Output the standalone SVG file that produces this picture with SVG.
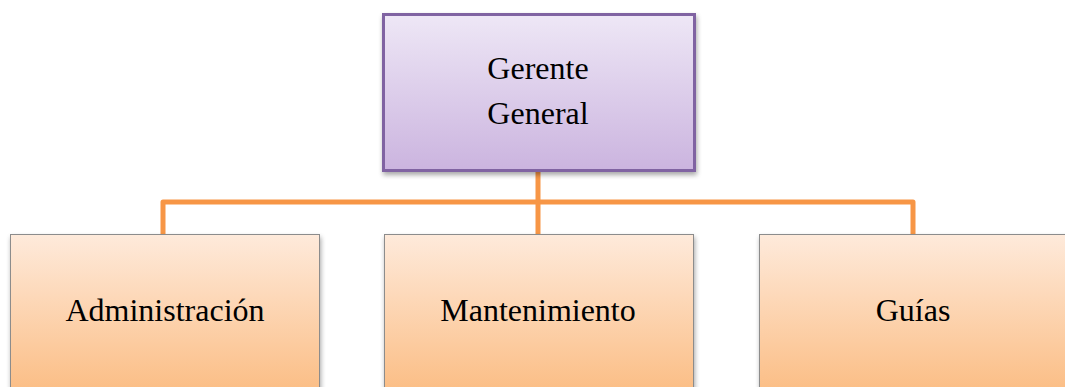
<svg xmlns="http://www.w3.org/2000/svg" width="1065" height="387" viewBox="0 0 1065 387">
<defs>
<linearGradient id="gPurple" x1="0" y1="0" x2="0" y2="1">
<stop offset="0" stop-color="#EEE7F6"/>
<stop offset="1" stop-color="#CBB4DF"/>
</linearGradient>
<linearGradient id="gOrange" x1="0" y1="0" x2="0" y2="1">
<stop offset="0" stop-color="#FEEADB"/>
<stop offset="1" stop-color="#FBBA7E"/>
</linearGradient>
<filter id="shadow" x="-10%" y="-10%" width="125%" height="130%">
<feGaussianBlur in="SourceAlpha" stdDeviation="2.5"/>
<feOffset dx="1" dy="3" result="b"/>
<feComponentTransfer><feFuncA type="linear" slope="0.35"/></feComponentTransfer>
<feMerge><feMergeNode/><feMergeNode in="SourceGraphic"/></feMerge>
</filter>
</defs>
<style>
.lbl{font-family:"Liberation Serif","Times New Roman",serif;font-size:32px;fill:#000;text-anchor:middle}
.child{fill:url(#gOrange);stroke:#8C8C8C;stroke-width:1}
.conn{fill:none;stroke:#F79646;stroke-width:5;stroke-linejoin:round}
</style>
<g id="connectors">
<path class="conn" d="M538,170 V202 M163,234 V202 H913 V234 M538,202 V234"/>
</g>
<g id="node-gerente">
<rect x="383.5" y="14.5" width="311" height="156" fill="url(#gPurple)" stroke="#8064A2" stroke-width="3" filter="url(#shadow)"/>
<text class="lbl" x="538" y="79">Gerente</text>
<text class="lbl" x="538" y="124">General</text>
</g>
<g id="node-administracion">
<rect class="child" x="10.5" y="234.5" width="309" height="170" filter="url(#shadow)"/>
<text class="lbl" x="165" y="321">Administración</text>
</g>
<g id="node-mantenimiento">
<rect class="child" x="384.5" y="234.5" width="309" height="170" filter="url(#shadow)"/>
<text class="lbl" x="538" y="321">Mantenimiento</text>
</g>
<g id="node-guias">
<rect class="child" x="759.5" y="234.5" width="320" height="170" filter="url(#shadow)"/>
<text class="lbl" x="913" y="321">Guías</text>
</g>
</svg>
